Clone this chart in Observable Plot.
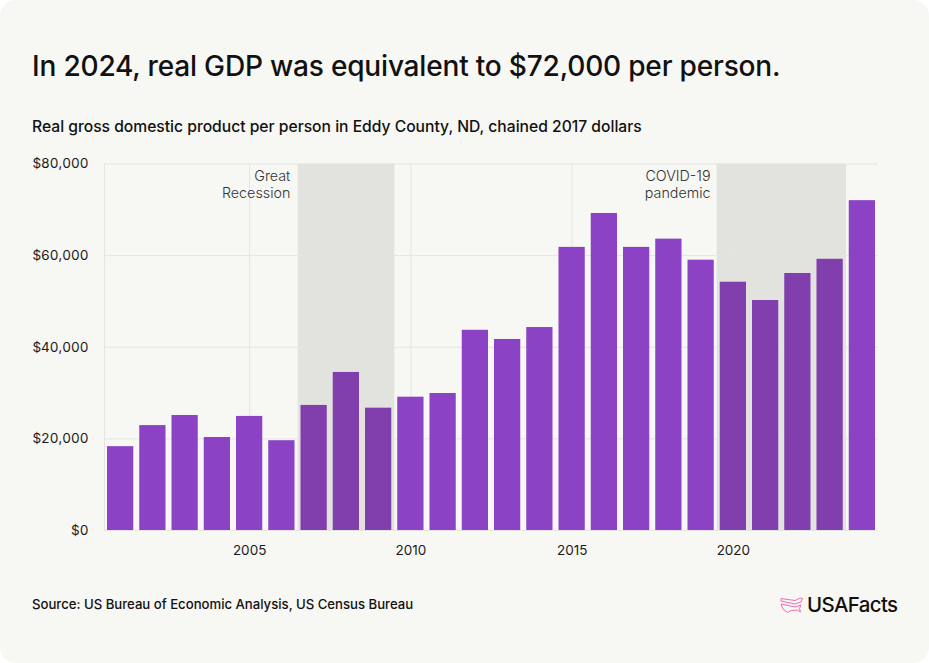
<!DOCTYPE html>
<html><head><meta charset="utf-8">
<script src="https://cdn.jsdelivr.net/npm/d3@7"></script>
<script src="https://cdn.jsdelivr.net/npm/@observablehq/plot@0.6"></script>
<style>
html,body{margin:0;padding:0;background:#fff;}
#card{position:relative;width:929px;height:663px;background:#F7F7F3;border-radius:16px;overflow:hidden;font-family:Inter,sans-serif;color:#111;}
#card h1{position:absolute;left:32px;top:48px;margin:0;font-size:28.05px;line-height:36px;font-weight:500;letter-spacing:-0.2px;white-space:nowrap;}
#sub{position:absolute;left:32px;top:117px;font-size:15.65px;line-height:20px;font-weight:500;white-space:nowrap;}
#src{position:absolute;left:32px;top:596px;font-size:13.15px;line-height:16px;font-weight:500;white-space:nowrap;}
#chart{position:absolute;left:0;top:130px;}
#logo{position:absolute;left:780px;top:596px;display:flex;align-items:center;}
#logo svg{display:block;}
#logo span{font-size:20.4px;font-weight:500;letter-spacing:-0.6px;margin-left:3px;line-height:18px;}
</style></head><body>
<div id="card">
<h1>In 2024, real GDP was equivalent to $72,000 per person.</h1>
<div id="sub">Real gross domestic product per person in Eddy County, ND, chained 2017 dollars</div>
<div id="chart"></div>
<div id="src">Source: US Bureau of Economic Analysis, US Census Bureau</div>
<div id="logo"><svg width="24" height="17" viewBox="0 0 24 17" fill="none" stroke="#F06BB4" stroke-width="1"><path d="M1 1.5 L8 2.5 L15 3.5 L20 1 L22.5 1.5 L21 5 L15 7 L8 5.5 L1 4 Z"/><path d="M1 7 L8 8.5 L15 10 L21 8 L19.5 11.5 L20.5 15 L17.5 13 L11 13.5 L7.5 15.5 L3 12 L1 7 Z"/></svg><span>USAFacts</span></div>
</div>
<script>
const years = d3.range(2001, 2025).map(String);
const gdp = [18300,22900,25100,20300,24900,19600,27300,34500,26700,29100,29900,43700,41700,44300,61800,69200,61800,63600,59000,54200,50200,56100,59200,72000];
const recessionYears = ["2007","2008","2009"];
const covidYears = ["2020","2021","2022","2023"];
const xTickYears = ["2005","2010","2015","2020"];
const yTicks = [0,20000,40000,60000,80000];
const rows = years.map((year,i)=>({year,value:gdp[i]}));
const shaded = [...recessionYears,...covidYears];
const fmt = d => "$" + d3.format(",")(d);
const plot = Plot.plot({
  width:929,height:450,
  marginLeft:104,marginRight:51,marginTop:33.5,marginBottom:50,
  style:{background:"transparent",fontFamily:"Inter,sans-serif",fontSize:"13.5px",color:"#1a1a1a"},
  x:{type:"band",domain:years,padding:0,round:false,label:null},
  y:{domain:[0,80000],label:null},
  color:{type:"identity"},
  marks:[
    Plot.barY(shaded,{x:d=>d,y:()=>80000,fill:"#E2E2DE",stroke:"#E2E2DE",strokeWidth:0.3,inset:0,shapeRendering:"crispEdges"}),
    Plot.gridY(yTicks,{stroke:"#E4E4E2",strokeOpacity:1}),
    Plot.ruleX(xTickYears,{x:d=>d,stroke:"#E4E4E2"}),
    Plot.frame({anchor:"left",stroke:"#E4E4E2"}),
    Plot.barY(rows,{x:"year",y:"value",fill:d=>shaded.includes(d.year)?"#813FAE":"#8B42C5",insetLeft:3,insetRight:3}),
    Plot.axisY({ticks:yTicks,tickSize:0,tickPadding:16,tickFormat:fmt,label:null,fontSize:13.5}),
    Plot.axisX({ticks:xTickYears,tickSize:0,tickPadding:15,label:null,fontSize:13.5}),
    Plot.text(["Great\nRecession"],{x:()=>"2006",y:()=>80000,text:d=>d,textAnchor:"end",lineAnchor:"top",dx:8.5,dy:4.5,lineHeight:1.2,fontSize:14.3,fontWeight:300,fill:"#333"}),
    Plot.text(["COVID-19\npandemic"],{x:()=>"2019",y:()=>80000,text:d=>d,textAnchor:"end",lineAnchor:"top",dx:9.4,dy:4.5,lineHeight:1.2,fontSize:14.3,fontWeight:300,fill:"#333"})
  ]
});
document.getElementById("chart").append(plot);
</script>
</body></html>
